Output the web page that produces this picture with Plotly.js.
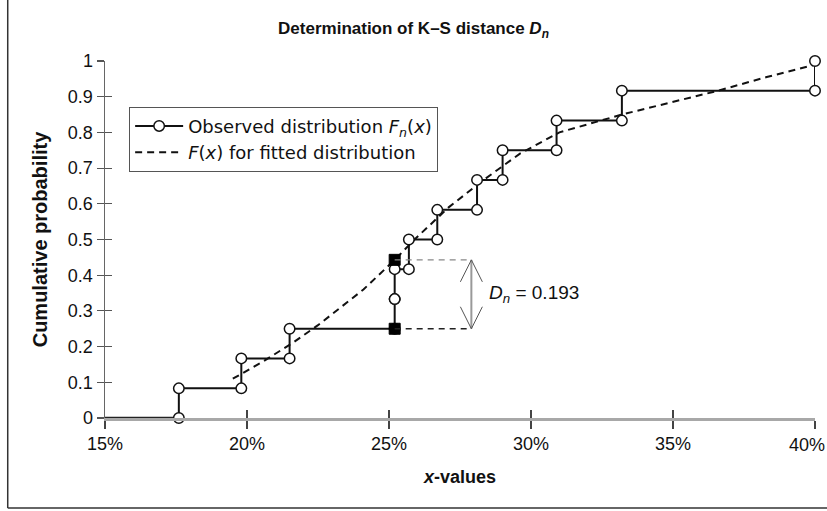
<!DOCTYPE html>
<html>
<head>
<meta charset="utf-8">
<script src="https://cdn.plot.ly/plotly-3.0.1.min.js"></script>
<style>html,body{margin:0;padding:0;background:#fff;}#chart{width:827px;height:511px;}</style>
</head>
<body>
<div id="chart"></div>
<script>
// ---- data (x in %) ----
const xStart = 15;
const obsX   = [17.6, 19.8, 21.5, 25.2, 25.2, 25.7, 26.7, 28.1, 29.0, 30.9, 33.2, 40.0];
const obsCum = [0.083, 0.167, 0.25, 0.333, 0.417, 0.5, 0.583, 0.667, 0.75, 0.833, 0.917, 1.0];
const fitX   = [19.5, 20.6, 21.6, 22.5, 23.3, 24.1, 25.2, 25.9, 27.1, 28.3, 29.6, 31.0, 33.2, 35.0, 36.6, 38.3, 40.0];
const fitF   = [0.11, 0.16, 0.21, 0.26, 0.31, 0.36, 0.443, 0.50, 0.59, 0.665, 0.74, 0.80, 0.85, 0.885, 0.917, 0.955, 0.99];
const dnX = 25.2, dnUpper = 0.443, dnLower = 0.25, dnArrowX = 27.9, dnLabel = "0.193";
const xTicks = [15, 20, 25, 30, 35, 40];
const xTickText = ['15%', '20%', '25%', '30%', '35%', '40%'];
const yTicks = [0, 0.1, 0.2, 0.3, 0.4, 0.5, 0.6, 0.7, 0.8, 0.9, 1];
const yTickText = ['0', '0.1', '0.2', '0.3', '0.4', '0.5', '0.6', '0.7', '0.8', '0.9', '1'];

// ---- build step path ----
const stepX = [], stepY = [];
let prev = 0;
for (let i = 0; i < obsX.length; i++) {
  stepX.push(obsX[i], obsX[i]);
  stepY.push(prev, obsCum[i]);
  prev = obsCum[i];
}

const FONT = "Liberation Sans, Arial, sans-serif";
const LFONT = "DejaVu Sans, Liberation Sans, sans-serif";

// last x tick label is drawn as an annotation so it stays inside the page edge
const lastIdx = xTicks.length - 1;
const axisTickText = xTickText.map((t, i) => i === lastIdx ? '' : t);

const traces = [
  { x: [xStart, obsX[0]], y: [0, 0], mode: 'lines', line: {color: '#222', width: 2.5},
    showlegend: false, hoverinfo: 'skip', cliponaxis: false },
  { x: fitX, y: fitF, mode: 'lines', name: '<i>F</i>(<i>x</i>) for fitted distribution',
    line: {color: '#111', width: 2, dash: '7px,5px'}, cliponaxis: false, legendrank: 2 },
  { x: stepX, y: stepY, mode: 'lines+markers', name: 'Observed distribution <i>F<sub>n</sub></i>(<i>x</i>)',
    line: {color: '#111', width: 2},
    marker: {symbol: 'circle', size: 10.5, color: '#fff', line: {color: '#111', width: 1.5}},
    cliponaxis: false, legendrank: 1 },
  { x: [dnX, dnX], y: [dnLower, dnUpper], mode: 'markers',
    marker: {symbol: 'square', size: 11, color: '#000', line: {color: '#000', width: 1}},
    showlegend: false, hoverinfo: 'skip' },
  { x: [], y: [], xaxis: 'x2', yaxis: 'y2', showlegend: false, hoverinfo: 'skip' }
];

const shapes = [
  { type: 'line', xref: 'x', yref: 'y', x0: dnX, x1: dnArrowX, y0: dnUpper, y1: dnUpper,
    line: {color: '#888', width: 1.2, dash: '6px,5px'} },
  { type: 'line', xref: 'x', yref: 'y', x0: dnX, x1: dnArrowX, y0: dnLower, y1: dnLower,
    line: {color: '#222', width: 1.5, dash: '6px,5px'} },
  { type: 'line', xref: 'x', yref: 'y', x0: dnArrowX, x1: dnArrowX, y0: dnLower, y1: dnUpper,
    line: {color: '#999', width: 2} },
  { type: 'path', xref: 'x', yref: 'y', xsizemode: 'pixel', ysizemode: 'pixel',
    xanchor: dnArrowX, yanchor: dnUpper, path: 'M -11,-22 L 0,0 L 11,-22',
    line: {color: '#555', width: 1} },
  { type: 'path', xref: 'x', yref: 'y', xsizemode: 'pixel', ysizemode: 'pixel',
    xanchor: dnArrowX, yanchor: dnLower, path: 'M -11,22 L 0,0 L 11,22',
    line: {color: '#555', width: 1} },
  { type: 'line', xref: 'paper', yref: 'paper', x0: -0.137, x1: -0.137, y0: -0.252, y1: 1.2,
    line: {color: '#333', width: 1.5} },
  { type: 'line', xref: 'paper', yref: 'paper', x0: -0.137, x1: 1.05, y0: -0.252, y1: -0.252,
    line: {color: '#333', width: 1.5} }
];

const layout = {
  width: 827, height: 511,
  margin: {l: 105, r: 12, t: 61, b: 93},
  paper_bgcolor: '#fff', plot_bgcolor: '#fff',
  font: {family: FONT, size: 18, color: '#111'},
  title: { text: '<b>Determination of K–S distance <i>D<sub>n</sub></i></b>',
    x: 0.5, xref: 'container', xanchor: 'center', y: 0.945, yref: 'container', yanchor: 'middle',
    font: {family: FONT, size: 17, color: '#111'} },
  xaxis: {
    range: [15, 40], tickmode: 'array', tickvals: xTicks, ticktext: axisTickText,
    showgrid: false, zeroline: false, showline: true, linecolor: '#a8a8a8', linewidth: 2.5,
    ticks: 'outside', ticklen: 8, tickwidth: 1.2, tickcolor: '#444',
    tickfont: {family: FONT, size: 18, color: '#111'},
    title: {text: '<b><i>x</i>-values</b>', font: {family: FONT, size: 18, color: '#111'}, standoff: 18}
  },
  yaxis: {
    range: [0, 1], tickmode: 'array', tickvals: yTicks, ticktext: yTickText,
    showgrid: false, zeroline: false, showline: true, linecolor: '#666', linewidth: 1.5,
    ticks: 'outside', ticklen: 7, tickwidth: 1.2, tickcolor: '#555', ticklabeloverflow: 'allow',
    tickfont: {family: FONT, size: 18, color: '#111'},
    title: {text: '<b>Cumulative probability</b>', font: {family: FONT, size: 20, color: '#111'}, standoff: 15}
  },
  xaxis2: { overlaying: 'x', anchor: 'y2', range: [15, 40], tickmode: 'array', tickvals: xTicks, showticklabels: false,
    ticks: 'inside', ticklen: 8, tickwidth: 1.2, tickcolor: '#444', showgrid: false, zeroline: false, showline: false },
  yaxis2: { overlaying: 'y', anchor: 'x2', range: [0, 1], tickmode: 'array', tickvals: yTicks, showticklabels: false,
    ticks: 'inside', ticklen: 7, tickwidth: 1.2, tickcolor: '#555', showgrid: false, zeroline: false, showline: false },
  legend: {
    x: 0.034, y: 0.872, xanchor: 'left', yanchor: 'top',
    bgcolor: '#fff', bordercolor: '#555', borderwidth: 1,
    font: {family: LFONT, size: 18, color: '#111'},
    traceorder: 'normal', tracegroupgap: 0, itemwidth: 48
  },
  shapes: shapes,
  annotations: [
    { xref: 'x', yref: 'y', x: dnArrowX, y: (dnUpper + dnLower) / 2, xanchor: 'left', yanchor: 'middle',
      xshift: 16, showarrow: false,
      text: '<i>D<sub>n</sub></i> = ' + dnLabel, font: {family: FONT, size: 19, color: '#111'} },
    { xref: 'x', yref: 'y', x: xTicks[lastIdx], y: 0, xanchor: 'right', yanchor: 'top',
      xshift: 11, yshift: -16, showarrow: false, borderpad: 0,
      text: xTickText[lastIdx], font: {family: FONT, size: 18, color: '#111'} }
  ],
  showlegend: true
};

Plotly.newPlot('chart', traces, layout, {displayModeBar: false, staticPlot: true});
</script>
</body>
</html>
